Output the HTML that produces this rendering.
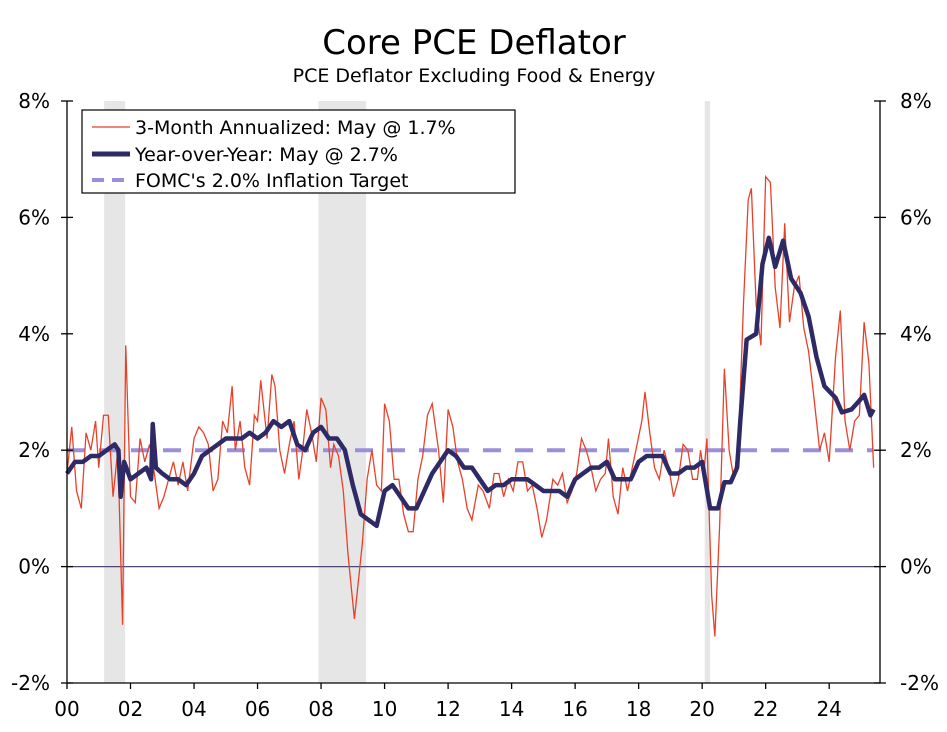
<!DOCTYPE html>
<html><head><meta charset="utf-8"><style>
body{margin:0;background:#fff}
svg text{font-family:"DejaVu Sans","Liberation Sans",sans-serif;fill:#000}
</style></head><body>
<svg id="chart" width="947" height="727" xmlns="http://www.w3.org/2000/svg">
<text x="474" y="54" text-anchor="middle" font-size="34">Core PCE Deflator</text>
<text x="474" y="82" text-anchor="middle" font-size="19">PCE Deflator Excluding Food &amp; Energy</text>
<g id="rec"></g><g id="grid"></g><g id="series"></g><g id="axes"></g>
<g>
<rect x="82" y="110" width="433" height="83" fill="#fff" stroke="#000" stroke-width="1.2"/>
<line x1="92" y1="127" x2="130" y2="127" stroke="#e8412a" stroke-width="1.3"/>
<text x="135" y="134" font-size="19">3-Month Annualized: May @ 1.7%</text>
<line x1="92" y1="154" x2="130" y2="154" stroke="#2e2a66" stroke-width="5"/>
<text x="135" y="161" font-size="19">Year-over-Year: May @ 2.7%</text>
<line x1="92" y1="180" x2="130" y2="180" stroke="#9a8fdc" stroke-width="4" stroke-dasharray="12,8"/>
<text x="135" y="187" font-size="19">FOMC's 2.0% Inflation Target</text>
</g>
</svg>
<script>
const recStart=[2001.17,2007.92,2020.08];
const recEnd=[2001.83,2009.42,2020.25];
const yTicks=[-2,0,2,4,6,8];
const xTicks=[2000,2002,2004,2006,2008,2010,2012,2014,2016,2018,2020,2022,2024];
const xTickLabels=["00","02","04","06","08","10","12","14","16","18","20","22","24"];
const target=[2.0];
const threeMDates=[2000.0,2000.15,2000.3,2000.45,2000.6,2000.75,2000.9,2001.0,2001.15,2001.3,2001.45,2001.6,2001.75,2001.85,2002.0,2002.15,2002.3,2002.45,2002.6,2002.75,2002.9,2003.05,2003.2,2003.35,2003.5,2003.65,2003.8,2004.0,2004.15,2004.3,2004.45,2004.6,2004.75,2004.9,2005.05,2005.2,2005.3,2005.45,2005.6,2005.75,2005.9,2006.0,2006.1,2006.3,2006.45,2006.55,2006.7,2006.85,2007.0,2007.15,2007.3,2007.4,2007.55,2007.7,2007.85,2008.0,2008.15,2008.3,2008.4,2008.55,2008.7,2008.85,2009.05,2009.3,2009.45,2009.6,2009.75,2009.9,2010.0,2010.15,2010.3,2010.45,2010.6,2010.75,2010.9,2011.05,2011.2,2011.35,2011.5,2011.7,2011.85,2012.0,2012.15,2012.3,2012.45,2012.6,2012.75,2012.95,2013.1,2013.3,2013.45,2013.6,2013.75,2013.9,2014.05,2014.2,2014.35,2014.5,2014.65,2014.8,2014.95,2015.1,2015.3,2015.45,2015.6,2015.75,2015.9,2016.05,2016.2,2016.35,2016.5,2016.65,2016.8,2016.95,2017.05,2017.2,2017.35,2017.5,2017.65,2017.8,2017.95,2018.1,2018.2,2018.35,2018.5,2018.65,2018.8,2018.95,2019.1,2019.25,2019.4,2019.55,2019.7,2019.85,2019.95,2020.05,2020.15,2020.3,2020.4,2020.55,2020.7,2020.85,2021.0,2021.15,2021.3,2021.45,2021.55,2021.7,2021.85,2022.0,2022.15,2022.3,2022.45,2022.6,2022.75,2022.9,2023.05,2023.2,2023.35,2023.5,2023.7,2023.85,2024.0,2024.2,2024.35,2024.5,2024.65,2024.8,2024.95,2025.1,2025.25,2025.4];
const threeMValues=[1.6,2.4,1.3,1.0,2.3,2.0,2.5,1.7,2.6,2.6,1.2,2.0,-1.0,3.8,1.2,1.1,2.2,1.8,2.1,1.6,1.0,1.2,1.5,1.8,1.4,1.8,1.3,2.2,2.4,2.3,2.1,1.3,1.5,2.5,2.3,3.1,2.0,2.5,1.7,1.4,2.6,2.5,3.2,2.2,3.3,3.1,2.0,1.6,2.1,2.5,1.5,1.9,2.7,2.3,1.8,2.9,2.7,1.7,2.1,1.9,1.3,0.2,-0.9,0.4,1.5,2.0,1.4,1.3,2.8,2.5,1.5,1.5,0.9,0.6,0.6,1.5,1.9,2.6,2.8,2.0,1.1,2.7,2.4,1.8,1.5,1.0,0.8,1.4,1.3,1.0,1.6,1.6,1.2,1.5,1.3,1.8,1.8,1.3,1.4,1.0,0.5,0.8,1.5,1.4,1.6,1.1,1.3,1.6,2.2,2.0,1.7,1.3,1.5,1.6,2.2,1.2,0.9,1.7,1.3,1.7,2.1,2.5,3.0,2.3,1.7,1.5,2.0,1.7,1.2,1.5,2.1,2.0,1.5,1.5,2.0,1.6,2.2,-0.5,-1.2,0.7,3.4,2.0,1.5,2.2,4.5,6.3,6.5,4.5,3.8,6.7,6.6,4.8,4.1,5.9,4.2,4.8,5.0,4.1,3.7,3.0,2.0,2.3,1.8,3.6,4.4,2.5,2.0,2.5,2.6,4.2,3.5,1.7];
const yoyDates=[2000.0,2000.25,2000.5,2000.75,2001.0,2001.25,2001.5,2001.62,2001.69,2001.8,2002.0,2002.25,2002.5,2002.65,2002.7,2002.8,2003.0,2003.25,2003.5,2003.75,2004.0,2004.25,2004.5,2004.75,2005.0,2005.25,2005.5,2005.75,2006.0,2006.25,2006.5,2006.75,2007.0,2007.25,2007.5,2007.75,2008.0,2008.25,2008.5,2008.75,2009.0,2009.25,2009.5,2009.75,2010.0,2010.25,2010.5,2010.75,2011.0,2011.25,2011.5,2011.75,2012.0,2012.25,2012.5,2012.75,2013.0,2013.25,2013.5,2013.75,2014.0,2014.25,2014.5,2014.75,2015.0,2015.25,2015.5,2015.75,2016.0,2016.25,2016.5,2016.75,2017.0,2017.25,2017.5,2017.75,2018.0,2018.25,2018.5,2018.75,2019.0,2019.25,2019.5,2019.75,2020.0,2020.25,2020.5,2020.7,2020.9,2021.1,2021.2,2021.4,2021.7,2021.9,2022.1,2022.3,2022.55,2022.8,2023.1,2023.35,2023.6,2023.85,2024.2,2024.4,2024.7,2024.95,2025.1,2025.3,2025.4];
const yoyValues=[1.6,1.8,1.8,1.9,1.9,2.0,2.1,2.0,1.2,1.8,1.5,1.6,1.7,1.5,2.45,1.7,1.6,1.5,1.5,1.4,1.6,1.9,2.0,2.1,2.2,2.2,2.2,2.3,2.2,2.3,2.5,2.4,2.5,2.1,2.0,2.3,2.4,2.2,2.2,2.0,1.4,0.9,0.8,0.7,1.3,1.4,1.2,1.0,1.0,1.3,1.6,1.8,2.0,1.9,1.7,1.7,1.5,1.3,1.4,1.4,1.5,1.5,1.5,1.4,1.3,1.3,1.3,1.2,1.5,1.6,1.7,1.7,1.8,1.5,1.5,1.5,1.8,1.9,1.9,1.9,1.6,1.6,1.7,1.7,1.8,1.0,1.0,1.45,1.45,1.7,2.5,3.9,4.0,5.2,5.65,5.15,5.6,4.95,4.7,4.3,3.6,3.1,2.9,2.65,2.7,2.85,2.95,2.6,2.7];

const L=67,R=880,T=101,B=683,X0=2000,X1=2025.6,Y0=-2,Y1=8;
const sx=v=>L+(v-X0)/(X1-X0)*(R-L);
const sy=v=>B-(v-Y0)/(Y1-Y0)*(B-T);
const NS="http://www.w3.org/2000/svg";
function mk(tag,attrs,parent){const e=document.createElementNS(NS,tag);for(const k in attrs)e.setAttribute(k,attrs[k]);document.getElementById(parent).appendChild(e);return e;}

recStart.forEach((s,i)=>{
 const r=mk('rect',{x:sx(s),y:T,width:sx(recEnd[i])-sx(s),height:B-T,fill:'#e6e6e6'},'rec');
 
 
});
const z=mk('line',{x1:L,x2:R,y1:sy(0),y2:sy(0),stroke:'#4a4870','stroke-width':1.3},'grid');



const tl=mk('line',{x1:L,x2:sx(2025.4),y1:sy(target[0]),y2:sy(target[0]),stroke:'#9a8fdc','stroke-width':4,'stroke-dasharray':'18,14'},'series');



const p1=mk('polyline',{points:threeMDates.map((d,i)=>sx(d)+','+sy(threeMValues[i])).join(' '),fill:'none',stroke:'#e8412a','stroke-width':1.3},'series');


const p2=mk('polyline',{points:yoyDates.map((d,i)=>sx(d)+','+sy(yoyValues[i])).join(' '),fill:'none',stroke:'#2e2a66','stroke-width':4.5,'stroke-linejoin':'round'},'series');



mk('line',{x1:L,x2:L,y1:T,y2:B,stroke:'#000','stroke-width':1.3},'axes');
mk('line',{x1:R,x2:R,y1:T,y2:B,stroke:'#000','stroke-width':1.3},'axes');
mk('line',{x1:L,x2:R,y1:B,y2:B,stroke:'#000','stroke-width':1.3},'axes');
yTicks.forEach(v=>{
 mk('line',{x1:L-6,x2:L+6,y1:sy(v),y2:sy(v),stroke:'#000','stroke-width':1.3},'axes');
 mk('line',{x1:R-6,x2:R+6,y1:sy(v),y2:sy(v),stroke:'#000','stroke-width':1.3},'axes');
 const a=mk('text',{x:L-17,y:sy(v)+7,'text-anchor':'end','font-size':20},'axes');a.textContent=v+'%';
 
 
 const b=mk('text',{x:R+20,y:sy(v)+7,'text-anchor':'start','font-size':20},'axes');b.textContent=v+'%';
 
 
});
xTicks.forEach((v,i)=>{
 mk('line',{x1:sx(v),x2:sx(v),y1:B,y2:B+6,stroke:'#000','stroke-width':1.3},'axes');
 const t=mk('text',{x:sx(v),y:B+33,'text-anchor':'middle','font-size':20},'axes');t.textContent=xTickLabels[i];
 
 
});
</script>
</body></html>
